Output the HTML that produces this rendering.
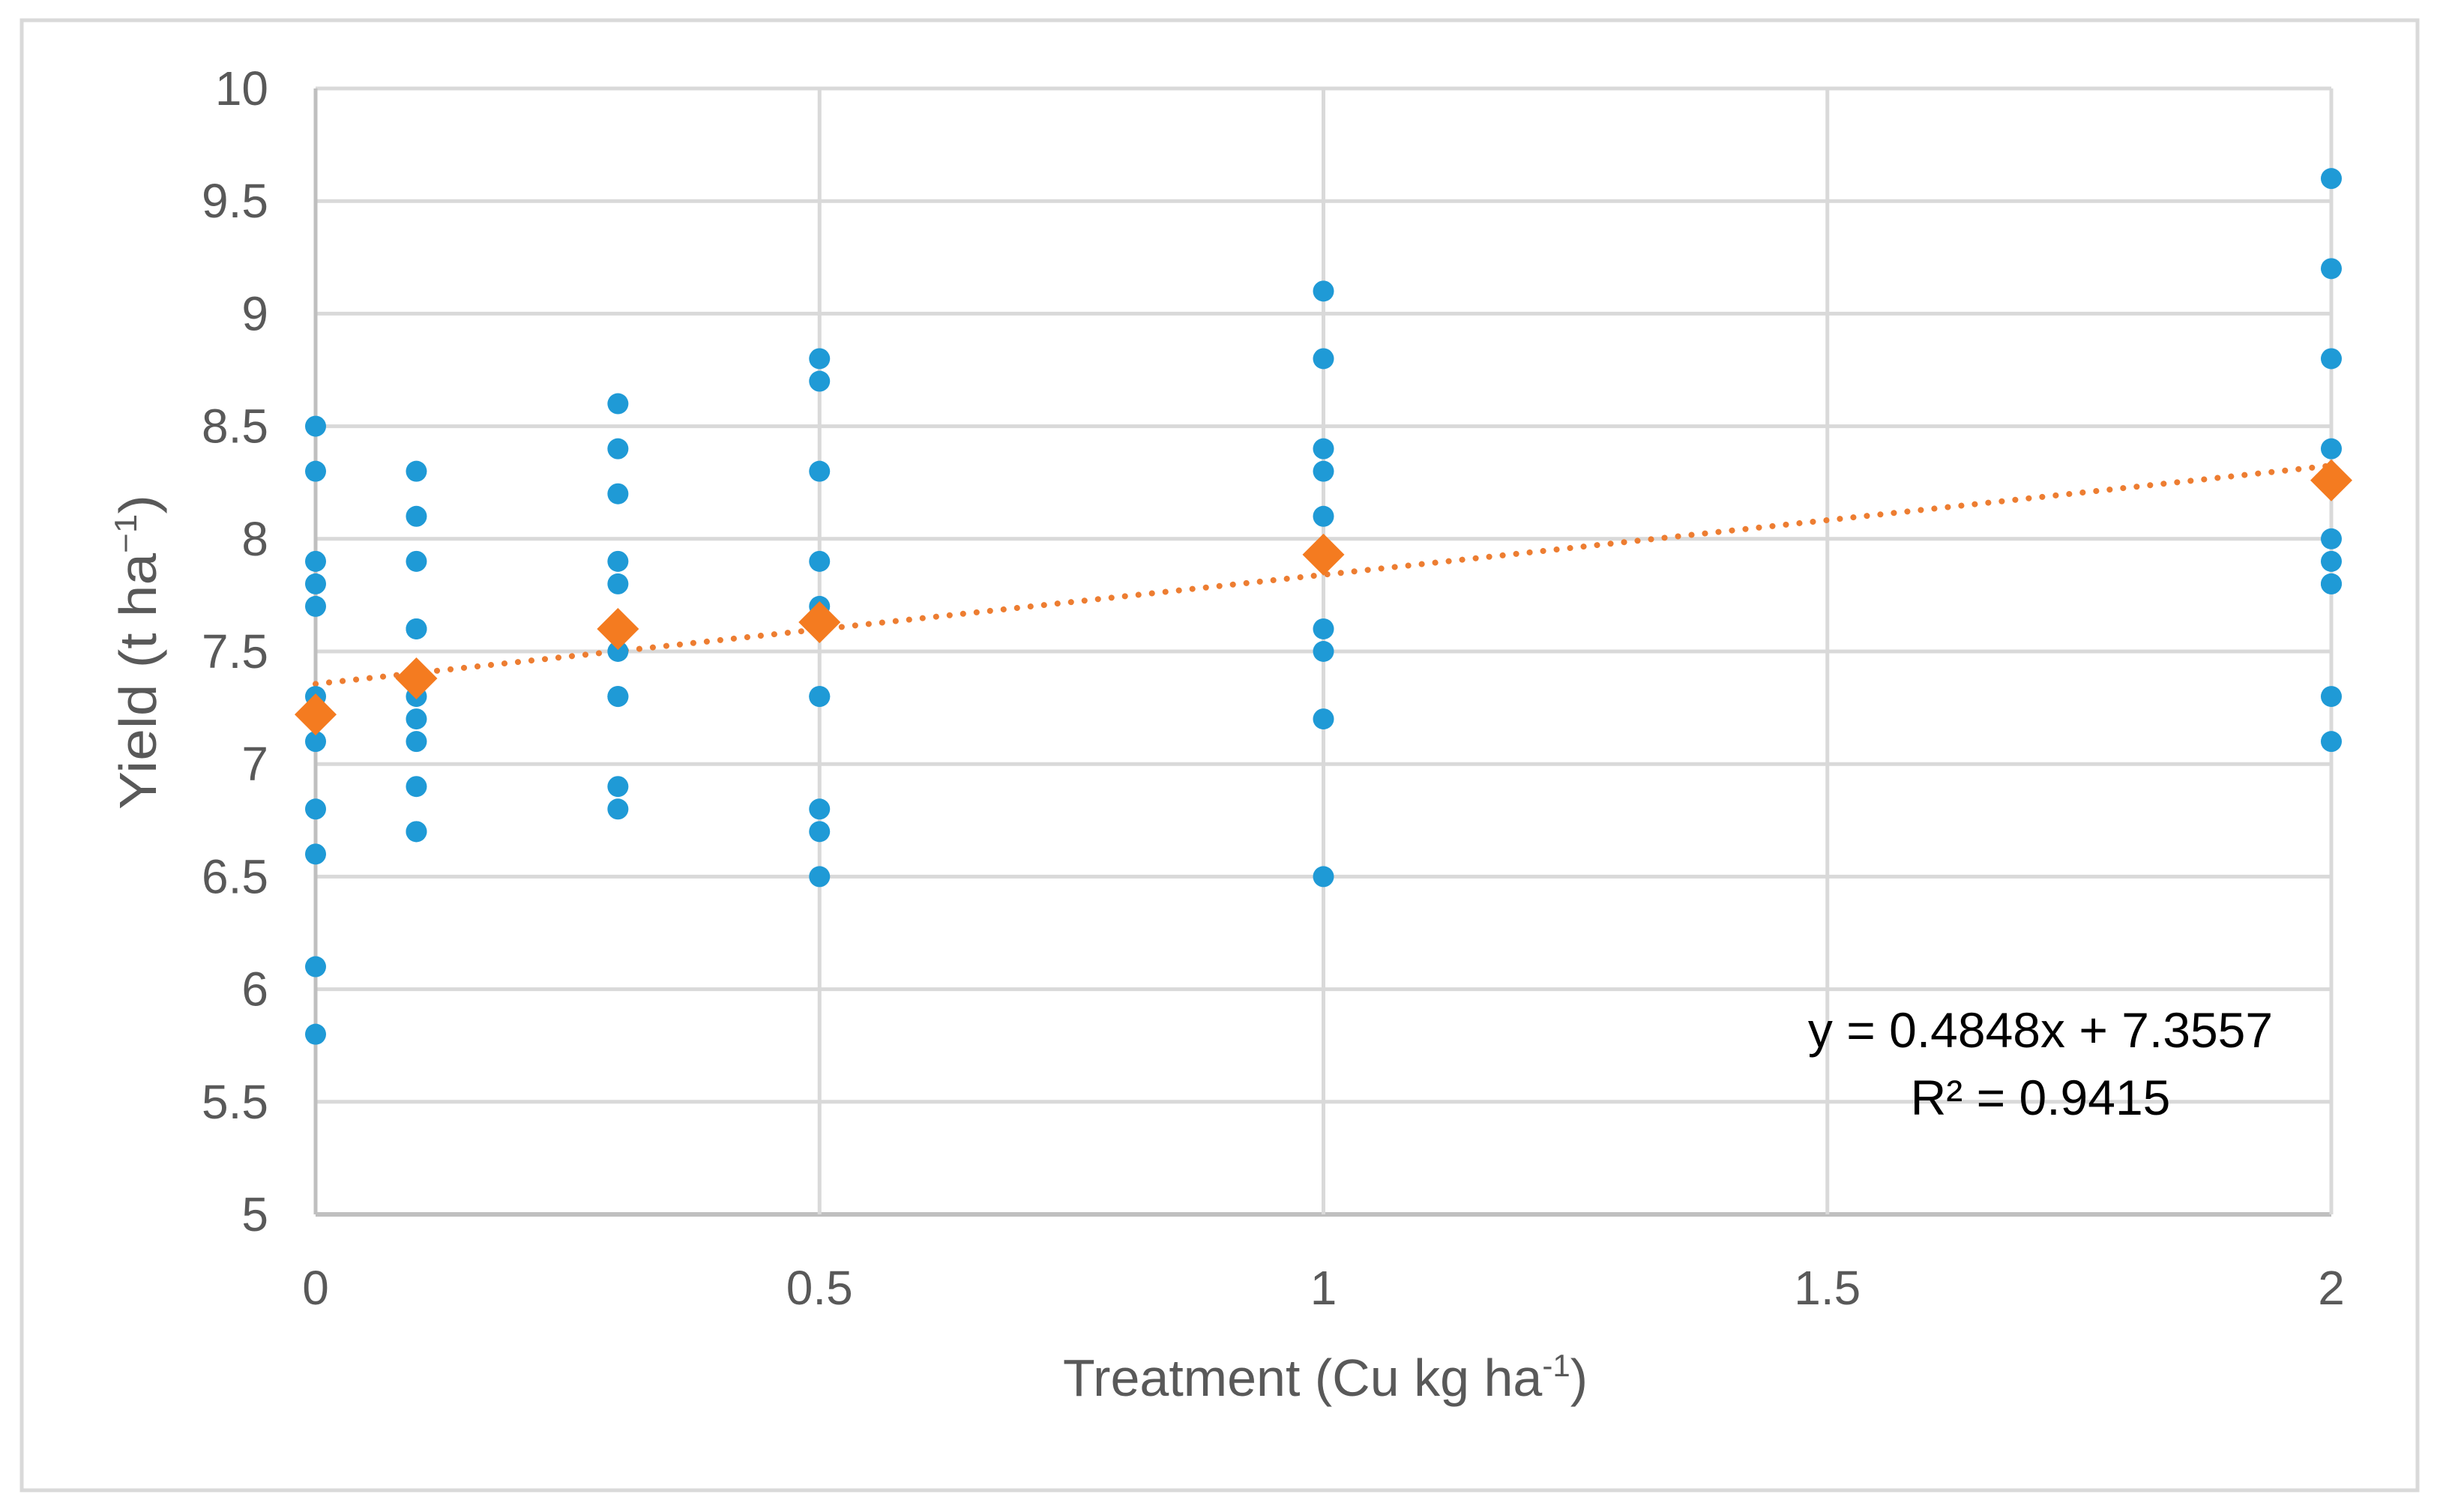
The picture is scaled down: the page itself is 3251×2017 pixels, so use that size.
<!DOCTYPE html>
<html><head><meta charset="utf-8"><style>
html,body{margin:0;padding:0;background:#fff;}
svg{display:block;}
text{font-family:"Liberation Sans",sans-serif;fill:#595959;}
</style></head><body>
<svg id="chart" width="3251" height="2017" xmlns="http://www.w3.org/2000/svg">
<rect x="29" y="27" width="3196" height="1961" fill="#fff" stroke="#d9d9d9" stroke-width="5"/>
<g id="grid"></g>
<g id="axes"></g>
<g id="trend"></g>
<g id="points"></g>
<g id="means"></g>
<text transform="translate(208,870) rotate(-90)" text-anchor="middle" font-size="70" textLength="420" lengthAdjust="spacingAndGlyphs">Yield (t ha<tspan dy="-26" font-size="42">−1</tspan><tspan dy="26">)</tspan></text>
<text x="1768" y="1862" text-anchor="middle" font-size="70">Treatment (Cu kg ha<tspan dy="-26" font-size="42">-1</tspan><tspan dy="26">)</tspan></text>
<text x="2722" y="1397" text-anchor="middle" font-size="66" style="fill:#000">y = 0.4848x + 7.3557</text>
<text x="2722" y="1487" text-anchor="middle" font-size="66" style="fill:#000">R² = 0.9415</text>
</svg>
<script>
const xTicks=[0,0.5,1,1.5,2];
const yTicks=[5,5.5,6,6.5,7,7.5,8,8.5,9,9.5,10];
const xTickLabels=["0","0.5","1","1.5","2"];
const yTickLabels=["5","5.5","6","6.5","7","7.5","8","8.5","9","9.5","10"];
const treatments=[0,0.1,0.3,0.5,1,2];
const yields0=[8.5,8.3,7.9,7.8,7.7,7.3,7.2,7.1,6.8,6.6,6.1,5.8];
const yields01=[8.3,8.1,7.9,7.6,7.6,7.3,7.2,7.1,6.9,6.7,6.7];
const yields03=[8.6,8.4,8.2,7.9,7.8,7.5,7.3,7.3,6.9,6.8];
const yields05=[8.8,8.7,8.3,7.9,7.7,7.3,7.3,6.8,6.7,6.5];
const yields1=[9.1,8.8,8.4,8.3,8.1,7.6,7.5,7.2,6.5];
const yields2=[9.6,9.2,8.8,8.4,8.0,7.9,7.8,7.8,7.3,7.1];
const means=[7.22,7.38,7.6,7.63,7.93,8.26];
const slope=0.4848, intercept=7.3557;

const NS="http://www.w3.org/2000/svg";
const X0=421,X1=3110,Y0=1620,Y1=118;
const xs=v=>X0+(v-0)/(2-0)*(X1-X0);
const ys=v=>Y0-(v-5)/(10-5)*(Y0-Y1);
function mk(tag,attrs,parent){const e=document.createElementNS(NS,tag);for(const k in attrs)e.setAttribute(k,attrs[k]);parent.appendChild(e);return e;}
const grid=document.getElementById('grid'),axes=document.getElementById('axes');
yTicks.forEach((t,i)=>{
  const l=mk('line',{x1:X0,x2:X1,y1:ys(t),y2:ys(t),stroke:i===0?'#bfbfbf':'#d9d9d9','stroke-width':i===0?6:5},grid);
  
  
  const tx=mk('text',{x:358,y:ys(t)+22,'text-anchor':'end','font-size':64},axes);
  tx.textContent=yTickLabels[i];
  
  
});
xTicks.forEach((t,i)=>{
  const l=mk('line',{x1:xs(t),x2:xs(t),y1:Y1,y2:Y0,stroke:i===0?'#bfbfbf':'#d9d9d9','stroke-width':5},grid);
  
  
  const tx=mk('text',{x:xs(t),y:1740,'text-anchor':'middle','font-size':64},axes);
  tx.textContent=xTickLabels[i];
  
  
});
const tr=mk('line',{x1:xs(0),y1:ys(intercept),x2:xs(2),y2:ys(intercept+slope*2),stroke:'#ed7d31','stroke-width':8,'stroke-dasharray':'0.1 18','stroke-linecap':'round'},document.getElementById('trend'));


const groups=[yields0,yields01,yields03,yields05,yields1,yields2];
const pg=document.getElementById('points');
groups.forEach((g,gi)=>g.forEach(v=>{
  const c=mk('circle',{cx:xs(treatments[gi]),cy:ys(v),r:14,fill:'#1f9ad6'},pg);
  
  
}));
const mg=document.getElementById('means');
means.forEach((m,i)=>{
  const cx=xs(treatments[i]),cy=ys(m),s=28;
  const p=mk('polygon',{points:`${cx},${cy-s} ${cx+s},${cy} ${cx},${cy+s} ${cx-s},${cy}`,fill:'#f47b20'},mg);
  
  
});
</script>
</body></html>
